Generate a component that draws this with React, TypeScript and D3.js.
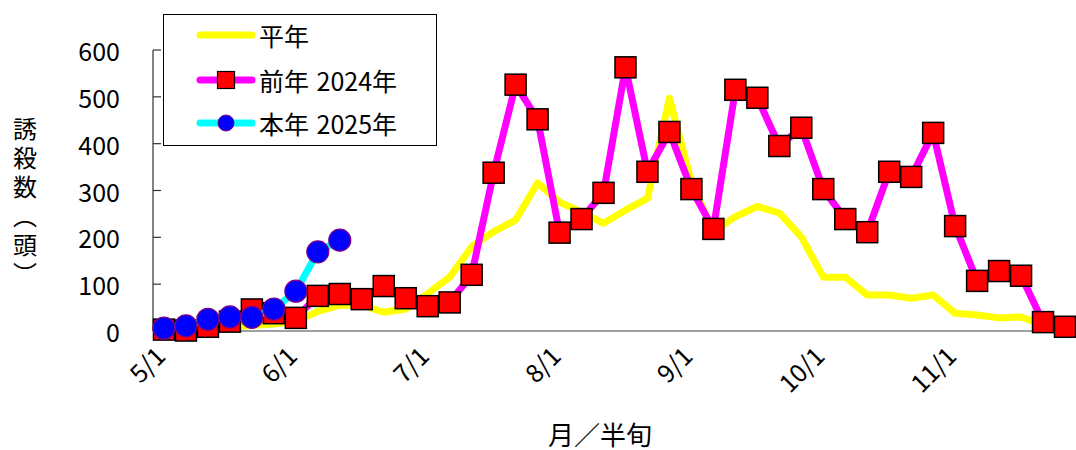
import React from "react";
import * as d3 from "d3";

const months = [5, 6, 7, 8, 9, 10, 11];
const periods = [1, 2, 3, 4, 5, 6];
const categories: string[] = months.flatMap((m) => periods.map((p) => `${m}/${p}`));
const tickLabels = ["5/1", "6/1", "7/1", "8/1", "9/1", "10/1", "11/1"];
const yTicks = [0, 100, 200, 300, 400, 500, 600];

const normalYear = [
  3, 4, 5, 8, 12, 15, 20, 42, 55, 55, 40, 47, 80, 115, 180, 212, 237, 316, 275, 254, 230,
  258, 283, 497, 318, 212, 244, 266, 252, 201, 115, 115, 77, 77, 70, 77, 38, 34, 28, 30, 13, 8,
];
const lastYear = [
  3, 1, 9, 20, 46, 38, 28, 75, 79, 68, 96, 70, 53, 61, 120, 338, 526, 452, 210, 239, 295,
  563, 340, 425, 303, 218, 515, 498, 395, 434, 303, 239, 211, 340, 329, 423, 224, 107, 128, 118, 19, 9,
];
const thisYear = [6, 11, 25, 30, 29, 47, 85, 169, 194];

const seriesNames = ["平年", "前年 2024年", "本年 2025年"];
const yTitle = "誘殺数（頭）";
const xTitle = "月／半旬";

const FONT = "'Noto Sans CJK JP', 'Noto Sans', sans-serif";

export default function App() {
  const W = 1076;
  const H = 450;
  const left = 153;
  const right = 1076;
  const top = 50;
  const bottom = 331;

  const x = d3.scaleBand<string>().domain(categories).range([left, right]);
  const cx = (c: string) => (x(c) as number) + x.bandwidth() / 2;
  const y = d3.scaleLinear().domain([0, 600]).range([bottom, top]);

  const line = d3
    .line<number>()
    .x((_, i) => cx(categories[i]))
    .y((d) => y(d));

  const sq = 21;
  const r = 11;

  return (
    <svg
      width={W}
      height={H}
      style={{ position: "absolute", left: 0, top: 0, background: "#fff" }}
      fontFamily={FONT}
    >
      {/* axes */}
      <line x1={left} x2={right} y1={bottom} y2={bottom} stroke="#808080" strokeWidth={1.5} />
      <line x1={left} x2={left} y1={top} y2={bottom} stroke="#333" strokeWidth={1.2} />
      {yTicks.map((t) => (
        <g key={t}>
          <line x1={left} x2={left + 8} y1={y(t)} y2={y(t)} stroke="#333" strokeWidth={1.2} />
          <text x={120} y={y(t)} textAnchor="end" dominantBaseline="central" fontSize={25} fill="#000">
            {t}
          </text>
        </g>
      ))}
      {tickLabels.map((t) => (
        <text
          key={t}
          transform={`translate(${cx(t) + 3},${358}) rotate(-45)`}
          textAnchor="end"
          fontSize={25}
          fill="#000"
        >
          {t}
        </text>
      ))}
      {/* y title, vertical writing */}
      <text
        x={25}
        y={117}
        style={{ writingMode: "vertical-rl" }}
        fontSize={24}
        letterSpacing={5}
        fill="#000"
      >
        {yTitle}
      </text>
      <text x={600} y={433} textAnchor="middle" dominantBaseline="central" fontSize={26} fill="#000">
        {xTitle}
      </text>

      {/* normal year */}
      <path d={line(normalYear) || ""} fill="none" stroke="#ffff00" strokeWidth={7} strokeLinejoin="round" />
      {/* last year */}
      <path d={line(lastYear) || ""} fill="none" stroke="#ff00ff" strokeWidth={7} strokeLinejoin="round" />
      {lastYear.map((v, i) => (
        <rect
          key={i}
          x={cx(categories[i]) - sq / 2}
          y={y(v) - sq / 2}
          width={sq}
          height={sq}
          fill="#ff0000"
          stroke="#000"
          strokeWidth={1.5}
        />
      ))}
      {/* this year */}
      <path d={line(thisYear) || ""} fill="none" stroke="#00ffff" strokeWidth={7} strokeLinejoin="round" />
      {thisYear.map((v, i) => (
        <circle key={i} cx={cx(categories[i])} cy={y(v)} r={r} fill="#0000ff" stroke="#800080" strokeWidth={1.2} />
      ))}

      {/* legend */}
      <rect x={163.5} y={14.5} width={273} height={131} fill="#fff" stroke="#000" strokeWidth={1} />
      {seriesNames.map((n, i) => {
        const ly = [35, 80, 123][i];
        const col = ["#ffff00", "#ff00ff", "#00ffff"][i];
        return (
          <g key={n}>
            <line x1={200} x2={252} y1={ly} y2={ly} stroke={col} strokeWidth={7} strokeLinecap="round" />
            {i === 1 && (
              <rect x={226 - 8.5} y={ly - 8.5} width={17} height={17} fill="#ff0000" stroke="#000" strokeWidth={1.2} />
            )}
            {i === 2 && <circle cx={226} cy={ly} r={8} fill="#0000ff" stroke="#800080" strokeWidth={1} />}
            <text x={259} y={ly} dominantBaseline="central" fontSize={25} wordSpacing={2} fill="#000">
              {n}
            </text>
          </g>
        );
      })}
    </svg>
  );
}
